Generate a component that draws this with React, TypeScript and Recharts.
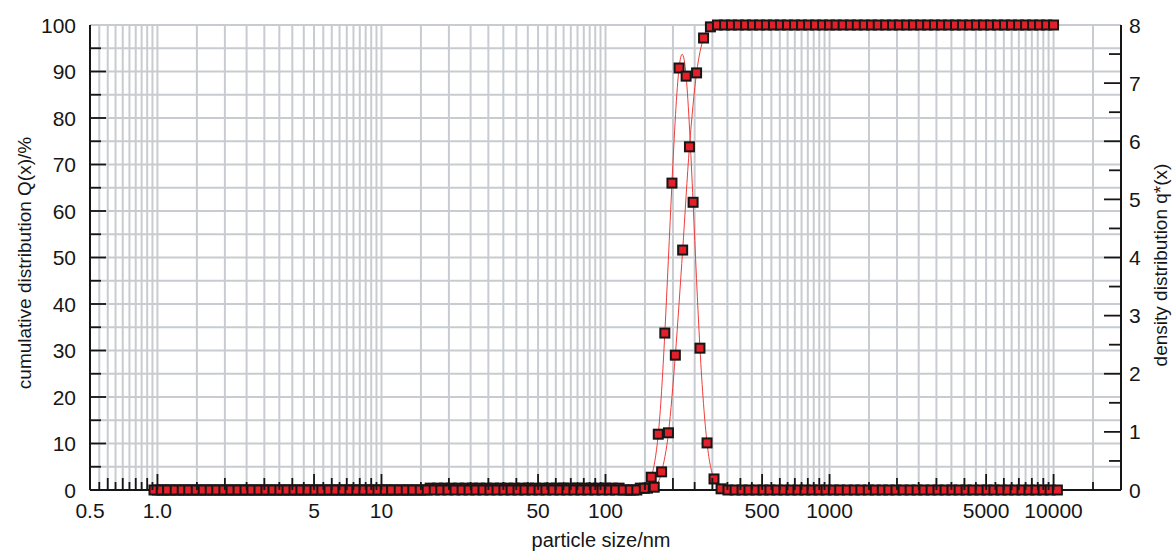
import { ComposedChart, Line, XAxis, YAxis, CartesianGrid } from "recharts";

// particle sizes (nm) of the cumulative points, 32 per decade
const Q_SIZES = [
  1, 1.07, 1.15, 1.24, 1.33, 1.43, 1.54, 1.65, 1.78, 1.91, 2.05, 2.21, 2.37, 2.55, 2.74, 2.94,
  3.16, 3.4, 3.65, 3.92, 4.22, 4.53, 4.87, 5.23, 5.62, 6.04, 6.49, 6.98, 7.5, 8.06, 8.66, 9.31,
  10, 10.7, 11.5, 12.4, 13.3, 14.3, 15.4, 16.5, 17.8, 19.1, 20.5, 22.1, 23.7, 25.5, 27.4, 29.4,
  31.6, 34, 36.5, 39.2, 42.2, 45.3, 48.7, 52.3, 56.2, 60.4, 64.9, 69.8, 75, 80.6, 86.6, 93.1,
  100, 107, 115, 124, 133, 143, 154, 165, 178, 191, 205, 221, 237, 255, 274, 294,
  316, 340, 365, 392, 422, 453, 487, 523, 562, 604, 649, 698, 750, 806, 866, 931,
  1000, 1070, 1150, 1240, 1330, 1430, 1540, 1650, 1780, 1910, 2050, 2210, 2370, 2550, 2740, 2940,
  3160, 3400, 3650, 3920, 4220, 4530, 4870, 5230, 5620, 6040, 6490, 6980, 7500, 8060, 8660, 9310,
  10000,
];

// cumulative distribution Q(x) in %
const Q_VALUES = [
  0, 0, 0, 0, 0, 0, 0, 0, 0, 0, 0, 0, 0, 0, 0, 0,
  0, 0, 0, 0, 0, 0, 0, 0, 0, 0, 0, 0, 0, 0, 0, 0,
  0, 0, 0, 0, 0, 0, 0, 0.4, 0.4, 0.4, 0.4, 0.4, 0.4, 0.4, 0.4, 0.4,
  0.4, 0.4, 0.4, 0.4, 0.4, 0.4, 0.4, 0.4, 0.4, 0.4, 0.4, 0.4, 0.4, 0.4, 0.4, 0.4,
  0.4, 0.4, 0.4, 0, 0, 0.4, 0.4, 0.6, 3.9, 12.3, 29.0, 51.6, 73.8, 89.7, 97.2, 99.6,
  100, 100, 100, 100, 100, 100, 100, 100, 100, 100, 100, 100, 100, 100, 100, 100,
  100, 100, 100, 100, 100, 100, 100, 100, 100, 100, 100, 100, 100, 100, 100, 100,
  100, 100, 100, 100, 100, 100, 100, 100, 100, 100, 100, 100, 100, 100, 100, 100,
  100,
];

// particle sizes (nm) of the density points, between the cumulative ones
const DENSITY_SIZES = [
  0.965, 1.04, 1.11, 1.2, 1.29, 1.38, 1.49, 1.6, 1.72, 1.84, 1.98, 2.13, 2.29, 2.46, 2.64, 2.84,
  3.05, 3.28, 3.52, 3.79, 4.07, 4.37, 4.7, 5.05, 5.42, 5.83, 6.26, 6.73, 7.23, 7.77, 8.35, 8.98,
  9.65, 10.4, 11.1, 12, 12.9, 13.8, 14.9, 16, 17.2, 18.4, 19.8, 21.3, 22.9, 24.6, 26.4, 28.4,
  30.5, 32.8, 35.2, 37.9, 40.7, 43.7, 47, 50.5, 54.2, 58.3, 62.6, 67.3, 72.3, 77.7, 83.5, 89.8,
  96.5, 104, 111, 120, 129, 138, 149, 160, 172, 184, 198, 213, 229, 246, 264, 284,
  305, 328, 352, 379, 407, 437, 470, 505, 542, 583, 626, 673, 723, 777, 835, 898,
  965, 1040, 1110, 1200, 1290, 1380, 1490, 1600, 1720, 1840, 1980, 2130, 2290, 2460, 2640, 2840,
  3050, 3280, 3520, 3790, 4070, 4370, 4700, 5050, 5420, 5830, 6260, 6730, 7230, 7770, 8350, 8980,
  9650, 10400,
];

// density distribution q*(x)
const DENSITY_VALUES = [
  0, 0, 0, 0, 0, 0, 0, 0, 0, 0, 0, 0, 0, 0, 0, 0,
  0, 0, 0, 0, 0, 0, 0, 0, 0, 0, 0, 0, 0, 0, 0, 0,
  0, 0, 0, 0, 0, 0, 0, 0, 0, 0, 0, 0, 0, 0, 0, 0,
  0, 0, 0, 0, 0, 0, 0, 0, 0, 0, 0, 0, 0, 0, 0, 0,
  0, 0, 0, 0, 0, 0, 0.03, 0.22, 0.96, 2.7, 5.28, 7.26, 7.12, 4.95, 2.44, 0.81,
  0.19, 0.02, 0, 0, 0, 0, 0, 0, 0, 0, 0, 0, 0, 0, 0, 0,
  0, 0, 0, 0, 0, 0, 0, 0, 0, 0, 0, 0, 0, 0, 0, 0,
  0, 0, 0, 0, 0, 0, 0, 0, 0, 0, 0, 0, 0, 0, 0, 0,
  0, 0,
];

const X_TICK_LABELS: Record<number, string> = {
  0.5: "0.5", 1: "1.0", 5: "5", 10: "10", 50: "50", 100: "100",
  500: "500", 1000: "1000", 5000: "5000", 10000: "10000",
};
const SUB_ONE_STEPS = [0.5, 0.55, 0.6, 0.65, 0.7, 0.75, 0.8, 0.85, 0.9, 0.95];
const DECADE_STEPS = [1, 1.5, 2, 2.5, 3, 3.5, 4, 4.5, 5, 5.5, 6, 6.5, 7, 7.5, 8, 8.5, 9, 9.5];
const DECADES = [1, 10, 100, 1000];
const LAST_TICKS = [10000, 15000];
const Q_TICKS = [0, 5, 10, 15, 20, 25, 30, 35, 40, 45, 50, 55, 60, 65, 70, 75, 80, 85, 90, 95, 100];
const DENSITY_TICKS = [0, 0.5, 1, 1.5, 2, 2.5, 3, 3.5, 4, 4.5, 5, 5.5, 6, 6.5, 7, 7.5, 8];

const X_TICKS = [
  ...SUB_ONE_STEPS,
  ...DECADES.flatMap((d) => DECADE_STEPS.map((m) => Number((m * d).toPrecision(6)))),
  ...LAST_TICKS,
];

const qData = Q_SIZES.map((size, i) => ({ size, q: Q_VALUES[i] }));
const densityData = DENSITY_SIZES.map((size, i) => ({ size, d: DENSITY_VALUES[i] }));

const FONT = "'Liberation Sans', Arial, Helvetica, sans-serif";
const INK = "#161616";
const RED = "#e3202a";
const LINE_RED = "#ef3d3a";

function xTickLength(v: number) {
  if (v === 0.5) return 0;
  const m = Number((v / Math.pow(10, Math.floor(Math.log10(v) + 1e-9))).toPrecision(4));
  if (m === 1 || m === 5) return 16;
  if (Number.isInteger(m)) return 12;
  return 8;
}

const BottomTick = (props: any) => {
  const { x, y, payload } = props;
  const v = payload.value;
  const len = xTickLength(v);
  const label = X_TICK_LABELS[v];
  return (
    <g>
      {len > 0 && <line x1={x} x2={x} y1={y} y2={y - len} stroke={INK} strokeWidth={1.8} />}
      {label && (
        <text x={x} y={y + 28} textAnchor="middle" fontSize={21} fontFamily={FONT} fill={INK}>
          {label}
        </text>
      )}
    </g>
  );
};

const TopTick = (props: any) => {
  const { x, y, payload } = props;
  const len = xTickLength(payload.value);
  if (!len) return <g />;
  return <line x1={x} x2={x} y1={y} y2={y + len} stroke={INK} strokeWidth={1.8} />;
};

const LeftTick = (props: any) => {
  const { x, y, payload } = props;
  const v = payload.value;
  const major = v % 10 === 0;
  return (
    <g>
      {v > 0 && v < 100 && (
        <line x1={x} x2={x + (major ? 16 : 11)} y1={y} y2={y} stroke={INK} strokeWidth={1.8} />
      )}
      {major && (
        <text x={x - 14} y={y + 7.5} textAnchor="end" fontSize={21} fontFamily={FONT} fill={INK}>
          {v}
        </text>
      )}
    </g>
  );
};

const RightTick = (props: any) => {
  const { x, y, payload } = props;
  const v = payload.value;
  const major = Number.isInteger(v);
  return (
    <g>
      {v > 0 && v < 8 && (
        <line x1={x} x2={x - (major ? 17 : 12)} y1={y} y2={y} stroke={INK} strokeWidth={1.8} />
      )}
      {major && (
        <text x={x + 8} y={y + 7.5} textAnchor="start" fontSize={21} fontFamily={FONT} fill={INK}>
          {v}
        </text>
      )}
    </g>
  );
};

const SquareDot = (props: any) => {
  const { cx, cy, index } = props;
  if (cx == null || cy == null) return <g key={index} />;
  return (
    <rect
      key={index}
      x={cx - 4.5}
      y={cy - 4.5}
      width={9}
      height={9}
      fill={RED}
      stroke={INK}
      strokeWidth={2}
    />
  );
};

export default function App() {
  return (
    <div style={{ position: "absolute", left: 0, top: 0, width: 1173, height: 553, background: "#fff" }}>
      <ComposedChart width={1173} height={553} margin={{ top: 25, right: 0, bottom: 0, left: 0 }}>
        <CartesianGrid xAxisId="bottom" yAxisId="left" stroke="#c8ccd0" strokeWidth={2} />
        <XAxis
          xAxisId="bottom"
          dataKey="size"
          type="number"
          scale="log"
          domain={[0.5, 20000]}
          allowDataOverflow
          ticks={X_TICKS}
          interval={0}
          tickSize={0}
          tickMargin={0}
          tick={BottomTick}
          height={63}
          axisLine={{ stroke: INK, strokeWidth: 2 }}
        />
        <XAxis
          xAxisId="top"
          orientation="top"
          dataKey="size"
          type="number"
          scale="log"
          domain={[0.5, 20000]}
          allowDataOverflow
          ticks={X_TICKS}
          interval={0}
          tickSize={0}
          tickMargin={0}
          tick={TopTick}
          height={0}
          axisLine={{ stroke: INK, strokeWidth: 2 }}
        />
        <YAxis
          yAxisId="left"
          type="number"
          domain={[0, 100]}
          ticks={Q_TICKS}
          interval={0}
          tickSize={0}
          tickMargin={0}
          tick={LeftTick}
          width={90}
          axisLine={{ stroke: INK, strokeWidth: 2 }}
        />
        <YAxis
          yAxisId="right"
          orientation="right"
          type="number"
          domain={[0, 8]}
          ticks={DENSITY_TICKS}
          interval={0}
          tickSize={0}
          tickMargin={0}
          tick={RightTick}
          width={52}
          axisLine={{ stroke: INK, strokeWidth: 2 }}
        />
        <Line
          xAxisId="bottom"
          yAxisId="left"
          data={qData}
          dataKey="q"
          type="monotone"
          stroke={LINE_RED}
          strokeWidth={1}
          dot={SquareDot}
          activeDot={false}
          isAnimationActive={false}
        />
        <Line
          xAxisId="bottom"
          yAxisId="right"
          data={densityData}
          dataKey="d"
          type="natural"
          stroke={LINE_RED}
          strokeWidth={1}
          dot={SquareDot}
          activeDot={false}
          isAnimationActive={false}
        />
        <text
          transform="translate(31,263) rotate(-90)"
          textAnchor="middle"
          fontSize={19}
          fontFamily={FONT}
          fill={INK}
        >
          cumulative distribution Q(x)/%
        </text>
        <text
          transform="translate(1167,265) rotate(-90)"
          textAnchor="middle"
          fontSize={19}
          fontFamily={FONT}
          fill={INK}
        >
          density distribution q*(x)
        </text>
        <text x={601} y={547} textAnchor="middle" fontSize={20} fontFamily={FONT} fill={INK}>
          particle size/nm
        </text>
      </ComposedChart>
    </div>
  );
}
